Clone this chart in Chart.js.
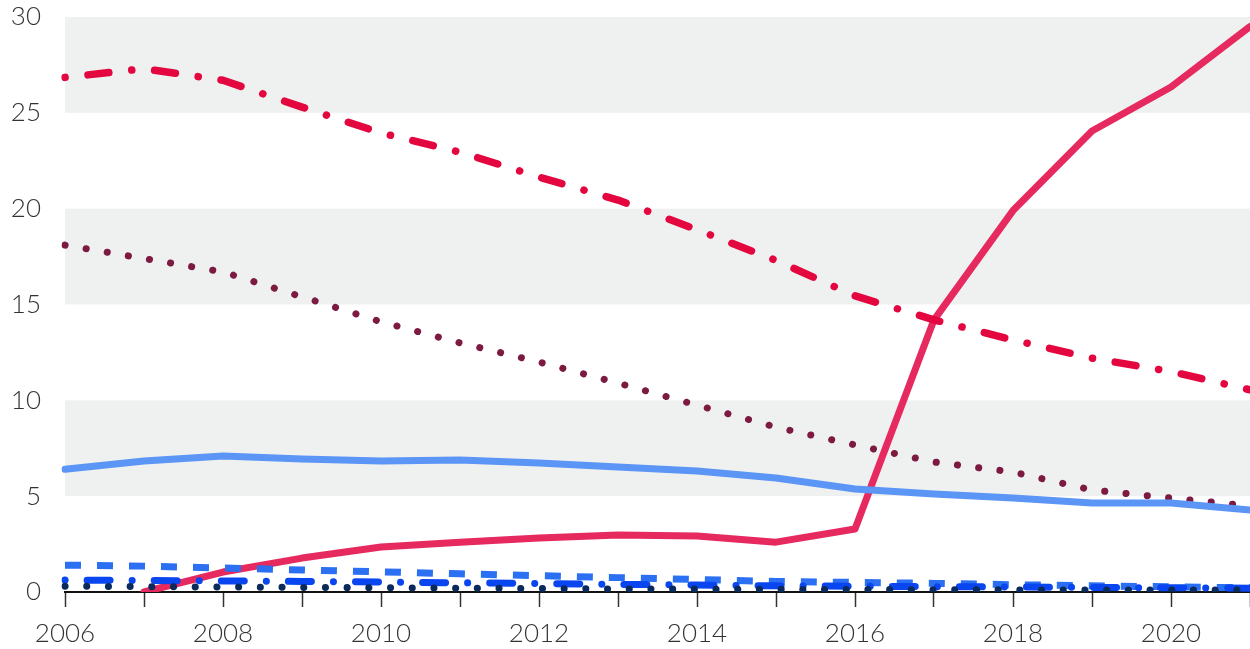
<!DOCTYPE html>
<html>
<head>
<meta charset="utf-8">
<script src="https://cdn.jsdelivr.net/npm/chart.js@4"></script>
<style>
  html, body { margin: 0; padding: 0; background: #fff; }
  #wrap { width: 1250px; height: 649px; }
</style>
</head>
<body>
<div id="wrap"><canvas id="myChart"></canvas></div>
<script>
// years along the bottom
const years = ['2006','2007','2008','2009','2010','2011','2012','2013','2014','2015','2016','2017','2018','2019','2020','2021']
const yTicks = [0, 5, 10, 15, 20, 25, 30]

// series
const redDashDot = [26.85, 27.3, 26.7, 25.3, 23.95, 22.95, 21.65, 20.45, 18.9, 17.3, 15.45, 14.2, 13.15, 12.2, 11.5, 10.55]
const maroonDots = [18.1, 17.4, 16.7, 15.4, 14.1, 13.0, 12.0, 10.9, 9.75, 8.6, 7.67, 6.78, 6.26, 5.32, 4.9, 4.49]
const lightBlue = [6.4, 6.83, 7.1, 6.94, 6.83, 6.89, 6.73, 6.52, 6.31, 5.95, 5.37, 5.11, 4.9, 4.64, 4.64, 4.28]
const pinkSolid = [null, 0, 1.04, 1.77, 2.35, 2.6, 2.82, 2.97, 2.92, 2.6, 3.29, 14.2, 19.9, 24.05, 26.35, 29.5]
const blueDashed = [1.4, 1.35, 1.25, 1.15, 1.05, 0.95, 0.85, 0.75, 0.65, 0.55, 0.5, 0.45, 0.38, 0.32, 0.27, 0.22]
const blueDashDot = [0.62, 0.6, 0.58, 0.55, 0.52, 0.48, 0.44, 0.4, 0.36, 0.32, 0.3, 0.28, 0.26, 0.24, 0.22, 0.2]
const navyDots = [0.3, 0.28, 0.26, 0.24, 0.22, 0.2, 0.18, 0.16, 0.15, 0.14, 0.13, 0.12, 0.11, 0.1, 0.1, 0.1]

// grey bands behind every other 5-unit step
const bands = {
  id: 'bands',
  beforeDraw(chart) {
    const { ctx, chartArea, scales } = chart
    ctx.save()
    ctx.fillStyle = '#eff1f0'
    for (let v = 5; v < 30; v += 10) {
      const top = scales.y.getPixelForValue(v + 5)
      const bot = scales.y.getPixelForValue(v)
      ctx.fillRect(chartArea.left, top, chartArea.right - chartArea.left, bot - top)
    }
    ctx.restore()
  }
}

function line(data, color, width, dash, cap) {
  return {
    data: data,
    borderColor: color,
    borderWidth: width,
    borderDash: dash,
    borderCapStyle: cap,
    borderJoinStyle: 'round',
    pointRadius: 0,
    tension: 0,
    fill: false
  }
}

Chart.defaults.font.family = 'Lato'
Chart.defaults.font.weight = 300
Chart.defaults.color = '#333'

const ctx = document.getElementById('myChart').getContext('2d')
const chart = new Chart(ctx, {
  type: 'line',
  data: {
    labels: years,
    datasets: [
      line(navyDots, '#0b2a5c', 7, [0.1, 21.6], 'round'),
      line(blueDashDot, '#0a46f0', 7, [0.1, 22, 23, 22], 'round'),
      line(blueDashed, '#2b6ff3', 7, [16, 16], 'butt'),
      line(lightBlue, '#5b95f6', 7, [], 'round'),
      line(maroonDots, '#7c1a42', 7, [0.1, 21.3], 'round'),
      line(redDashDot, '#e3063f', 7.5, [0.1, 23, 21, 23], 'round'),
      line(pinkSolid, '#e6295f', 7, [], 'round')
    ]
  },
  options: {
    responsive: true,
    maintainAspectRatio: false,
    animation: false,
    layout: { padding: { top: 17, right: 0, left: 0, bottom: 0 } },
    plugins: { legend: { display: false }, tooltip: { enabled: false } },
    scales: {
      x: {
        offset: false,
        grid: { drawOnChartArea: false, drawTicks: true, tickLength: 15, tickColor: '#333', tickWidth: 1.5 },
        border: { display: true, color: '#111', width: 2 },
        ticks: {
          autoSkip: false,
          maxRotation: 0,
          padding: 11,
          font: { size: 26 },
          callback: function(v, i) { return i % 2 === 0 ? years[i] : '' }
        },
        afterFit: function(s) { s.height = 57; s.paddingRight = 0; s.paddingLeft = 0 }
      },
      y: {
        min: 0,
        max: 30,
        grid: { display: false },
        border: { display: false },
        afterBuildTicks: function(s) { s.ticks = yTicks.map(v => ({ value: v })) },
        ticks: { font: { size: 26 }, padding: 16 },
        afterFit: function(s) { s.width = 65; s.paddingTop = 0; s.paddingBottom = 0 }
      }
    }
  },
  plugins: [bands]
})
</script>
</body>
</html>
